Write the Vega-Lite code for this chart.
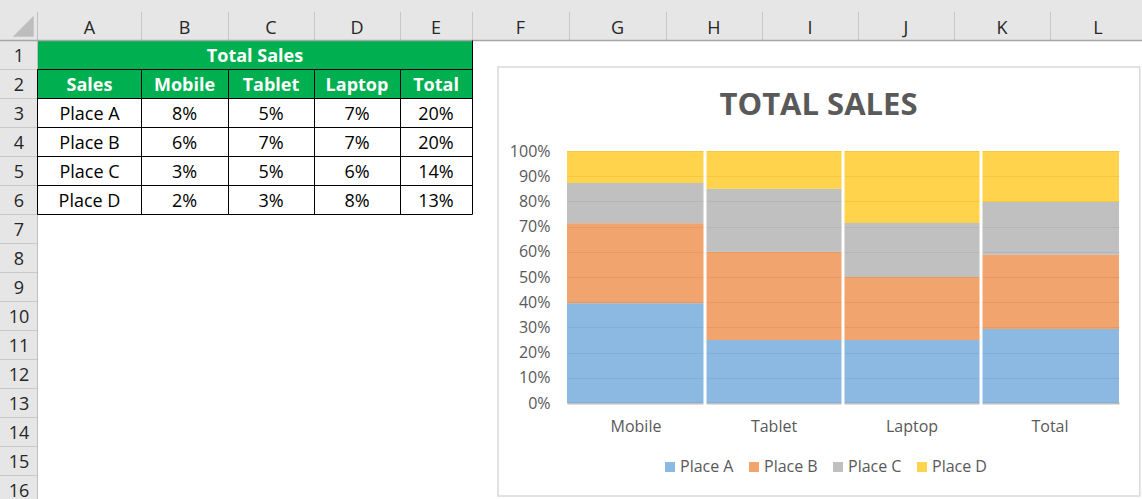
{
  "$schema": "https://vega.github.io/schema/vega-lite/v6.json",
  "width": 1142,
  "height": 499,
  "padding": 0,
  "autosize": {"type": "none"},
  "background": "#ffffff",
  "config": {"view": {"stroke": null}, "font": "Open Sans"},
  "title": {"text": "TOTAL SALES", "fontSize": 31, "fontWeight": "bold", "color": "#595959", "anchor": "middle", "frame": "group", "offset": 0, "baseline": "alphabetic", "dx": 247.5, "dy": 146},
  "datasets": {
    "columns": [
      {"letter": "A", "col": 1}, {"letter": "B", "col": 2}, {"letter": "C", "col": 3}, {"letter": "D", "col": 4},
      {"letter": "E", "col": 5}, {"letter": "F", "col": 6}, {"letter": "G", "col": 7}, {"letter": "H", "col": 8},
      {"letter": "I", "col": 9}, {"letter": "J", "col": 10}, {"letter": "K", "col": 11}, {"letter": "L", "col": 12}
    ],
    "rows": [
      {"row": 1}, {"row": 2}, {"row": 3}, {"row": 4}, {"row": 5}, {"row": 6}, {"row": 7}, {"row": 8},
      {"row": 9}, {"row": 10}, {"row": 11}, {"row": 12}, {"row": 13}, {"row": 14}, {"row": 15}, {"row": 16}
    ],
    "cells": [
      {"r": 1, "c": 1, "text": "Total Sales"},
      {"r": 2, "c": 1, "text": "Sales"}, {"r": 2, "c": 2, "text": "Mobile"}, {"r": 2, "c": 3, "text": "Tablet"}, {"r": 2, "c": 4, "text": "Laptop"}, {"r": 2, "c": 5, "text": "Total"},
      {"r": 3, "c": 1, "text": "Place A"}, {"r": 3, "c": 2, "text": "8%"}, {"r": 3, "c": 3, "text": "5%"}, {"r": 3, "c": 4, "text": "7%"}, {"r": 3, "c": 5, "text": "20%"},
      {"r": 4, "c": 1, "text": "Place B"}, {"r": 4, "c": 2, "text": "6%"}, {"r": 4, "c": 3, "text": "7%"}, {"r": 4, "c": 4, "text": "7%"}, {"r": 4, "c": 5, "text": "20%"},
      {"r": 5, "c": 1, "text": "Place C"}, {"r": 5, "c": 2, "text": "3%"}, {"r": 5, "c": 3, "text": "5%"}, {"r": 5, "c": 4, "text": "6%"}, {"r": 5, "c": 5, "text": "14%"},
      {"r": 6, "c": 1, "text": "Place D"}, {"r": 6, "c": 2, "text": "2%"}, {"r": 6, "c": 3, "text": "3%"}, {"r": 6, "c": 4, "text": "8%"}, {"r": 6, "c": 5, "text": "13%"}
    ],
    "sales": [
      {"product": "Mobile", "place": "Place A", "share": 0.396},
      {"product": "Mobile", "place": "Place B", "share": 0.317},
      {"product": "Mobile", "place": "Place C", "share": 0.160},
      {"product": "Mobile", "place": "Place D", "share": 0.127},
      {"product": "Tablet", "place": "Place A", "share": 0.25},
      {"product": "Tablet", "place": "Place B", "share": 0.35},
      {"product": "Tablet", "place": "Place C", "share": 0.25},
      {"product": "Tablet", "place": "Place D", "share": 0.15},
      {"product": "Laptop", "place": "Place A", "share": 0.25},
      {"product": "Laptop", "place": "Place B", "share": 0.25},
      {"product": "Laptop", "place": "Place C", "share": 0.214},
      {"product": "Laptop", "place": "Place D", "share": 0.286},
      {"product": "Total", "place": "Place A", "share": 0.294},
      {"product": "Total", "place": "Place B", "share": 0.294},
      {"product": "Total", "place": "Place C", "share": 0.21},
      {"product": "Total", "place": "Place D", "share": 0.202}
    ]
  },
  "layer": [
    {
      "layer": [
        {
          "data": {"values": [{"part": "column headings"}]},
          "mark": {"type": "rect", "color": "#e6e6e6"},
          "encoding": {
            "x": {"datum": 0, "type": "quantitative", "axis": null, "scale": {"type": "linear", "domain": [0,1,2,3,4,5,6,7,8,9,10,11,12,13], "range": [0,37.5,141.5,228.5,314.5,400.5,472.5,569.5,666.5,762.5,858.5,954.5,1050.5,1146.5], "nice": false, "zero": false}},
            "x2": {"datum": 13},
            "y": {"datum": 0, "type": "quantitative", "axis": null, "scale": {"type": "linear", "domain": [0,0.3,1,17], "range": [0,12,40.5,504.5], "nice": false, "zero": false}},
            "y2": {"datum": 1}
          }
        },
        {
          "data": {"values": [{"part": "row headings"}]},
          "mark": {"type": "rect", "color": "#e6e6e6"},
          "encoding": {
            "x": {"datum": 0, "type": "quantitative", "axis": null, "scale": {"type": "linear", "domain": [0,1,2,3,4,5,6,7,8,9,10,11,12,13], "range": [0,37.5,141.5,228.5,314.5,400.5,472.5,569.5,666.5,762.5,858.5,954.5,1050.5,1146.5], "nice": false, "zero": false}},
            "x2": {"datum": 1},
            "y": {"datum": 0, "type": "quantitative", "axis": null, "scale": {"type": "linear", "domain": [0,0.3,1,17], "range": [0,12,40.5,504.5], "nice": false, "zero": false}},
            "y2": {"datum": 17}
          }
        },
        {
          "data": {"values": [{"part": "table heading fill"}]},
          "mark": {"type": "rect", "color": "#00b050"},
          "encoding": {
            "x": {"datum": 1, "type": "quantitative", "axis": null, "scale": {"type": "linear", "domain": [0,1,2,3,4,5,6,7,8,9,10,11,12,13], "range": [0,37.5,141.5,228.5,314.5,400.5,472.5,569.5,666.5,762.5,858.5,954.5,1050.5,1146.5], "nice": false, "zero": false}},
            "x2": {"datum": 6},
            "y": {"datum": 1, "type": "quantitative", "axis": null, "scale": {"type": "linear", "domain": [0,0.3,1,17], "range": [0,12,40.5,504.5], "nice": false, "zero": false}},
            "y2": {"datum": 3}
          }
        },
        {
          "data": {"name": "columns"},
          "mark": {"type": "rule", "color": "#c8c8c8", "strokeWidth": 1},
          "encoding": {
            "x": {"field": "col", "type": "quantitative", "axis": null, "scale": {"type": "linear", "domain": [0,1,2,3,4,5,6,7,8,9,10,11,12,13], "range": [0,37.5,141.5,228.5,314.5,400.5,472.5,569.5,666.5,762.5,858.5,954.5,1050.5,1146.5], "nice": false, "zero": false}},
            "y": {"datum": 0.3, "type": "quantitative", "axis": null, "scale": {"type": "linear", "domain": [0,0.3,1,17], "range": [0,12,40.5,504.5], "nice": false, "zero": false}},
            "y2": {"datum": 1}
          }
        },
        {
          "data": {"name": "rows"},
          "transform": [{"filter": "datum.row >= 2"}],
          "mark": {"type": "rule", "color": "#c8c8c8", "strokeWidth": 1},
          "encoding": {
            "x": {"datum": 0, "type": "quantitative", "axis": null, "scale": {"type": "linear", "domain": [0,1,2,3,4,5,6,7,8,9,10,11,12,13], "range": [0,37.5,141.5,228.5,314.5,400.5,472.5,569.5,666.5,762.5,858.5,954.5,1050.5,1146.5], "nice": false, "zero": false}},
            "x2": {"datum": 1},
            "y": {"field": "row", "type": "quantitative", "axis": null, "scale": {"type": "linear", "domain": [0,0.3,1,17], "range": [0,12,40.5,504.5], "nice": false, "zero": false}}
          }
        },
        {
          "data": {"values": [{"part": "row heading border"}]},
          "mark": {"type": "rule", "color": "#bfbfbf", "strokeWidth": 1},
          "encoding": {
            "x": {"datum": 1, "type": "quantitative", "axis": null, "scale": {"type": "linear", "domain": [0,1,2,3,4,5,6,7,8,9,10,11,12,13], "range": [0,37.5,141.5,228.5,314.5,400.5,472.5,569.5,666.5,762.5,858.5,954.5,1050.5,1146.5], "nice": false, "zero": false}},
            "y": {"datum": 0.3, "type": "quantitative", "axis": null, "scale": {"type": "linear", "domain": [0,0.3,1,17], "range": [0,12,40.5,504.5], "nice": false, "zero": false}},
            "y2": {"datum": 17}
          }
        },
        {
          "data": {"values": [{"part": "column heading border"}]},
          "mark": {"type": "rule", "color": "#a6a6a6", "strokeWidth": 1.6},
          "encoding": {
            "x": {"datum": 0, "type": "quantitative", "axis": null, "scale": {"type": "linear", "domain": [0,1,2,3,4,5,6,7,8,9,10,11,12,13], "range": [0,37.5,141.5,228.5,314.5,400.5,472.5,569.5,666.5,762.5,858.5,954.5,1050.5,1146.5], "nice": false, "zero": false}},
            "x2": {"datum": 13},
            "y": {"datum": 1, "type": "quantitative", "axis": null, "scale": {"type": "linear", "domain": [0,0.3,1,17], "range": [0,12,40.5,504.5], "nice": false, "zero": false}}
          }
        },
        {
          "data": {"values": [{"part": "select all corner"}]},
          "mark": {"type": "point", "shape": "M 1 -1 L 1 1 L -1 1 Z", "filled": true, "color": "#bdbdbd", "opacity": 1, "size": 441, "strokeWidth": 0},
          "encoding": {
            "x": {"datum": 0.62, "type": "quantitative", "axis": null, "scale": {"type": "linear", "domain": [0,1,2,3,4,5,6,7,8,9,10,11,12,13], "range": [0,37.5,141.5,228.5,314.5,400.5,472.5,569.5,666.5,762.5,858.5,954.5,1050.5,1146.5], "nice": false, "zero": false}},
            "y": {"datum": 0.65, "type": "quantitative", "axis": null, "scale": {"type": "linear", "domain": [0,0.3,1,17], "range": [0,12,40.5,504.5], "nice": false, "zero": false}}
          }
        },
        {
          "data": {"name": "rows"},
          "transform": [{"filter": "datum.row >= 2 && datum.row <= 7"}],
          "mark": {"type": "rule", "color": "#000000", "strokeWidth": 1},
          "encoding": {
            "x": {"datum": 1, "type": "quantitative", "axis": null, "scale": {"type": "linear", "domain": [0,1,2,3,4,5,6,7,8,9,10,11,12,13], "range": [0,37.5,141.5,228.5,314.5,400.5,472.5,569.5,666.5,762.5,858.5,954.5,1050.5,1146.5], "nice": false, "zero": false}},
            "x2": {"datum": 6},
            "y": {"field": "row", "type": "quantitative", "axis": null, "scale": {"type": "linear", "domain": [0,0.3,1,17], "range": [0,12,40.5,504.5], "nice": false, "zero": false}}
          }
        },
        {
          "data": {"name": "columns"},
          "transform": [{"filter": "datum.col <= 5"}],
          "mark": {"type": "rule", "color": "#000000", "strokeWidth": 1},
          "encoding": {
            "x": {"field": "col", "type": "quantitative", "axis": null, "scale": {"type": "linear", "domain": [0,1,2,3,4,5,6,7,8,9,10,11,12,13], "range": [0,37.5,141.5,228.5,314.5,400.5,472.5,569.5,666.5,762.5,858.5,954.5,1050.5,1146.5], "nice": false, "zero": false}},
            "y": {"datum": 2, "type": "quantitative", "axis": null, "scale": {"type": "linear", "domain": [0,0.3,1,17], "range": [0,12,40.5,504.5], "nice": false, "zero": false}},
            "y2": {"datum": 7}
          }
        },
        {
          "data": {"values": [{"part": "table right border"}]},
          "mark": {"type": "rule", "color": "#000000", "strokeWidth": 1},
          "encoding": {
            "x": {"datum": 6, "type": "quantitative", "axis": null, "scale": {"type": "linear", "domain": [0,1,2,3,4,5,6,7,8,9,10,11,12,13], "range": [0,37.5,141.5,228.5,314.5,400.5,472.5,569.5,666.5,762.5,858.5,954.5,1050.5,1146.5], "nice": false, "zero": false}},
            "y": {"datum": 1, "type": "quantitative", "axis": null, "scale": {"type": "linear", "domain": [0,0.3,1,17], "range": [0,12,40.5,504.5], "nice": false, "zero": false}},
            "y2": {"datum": 7}
          }
        },
        {
          "data": {"values": [{"part": "chart area"}]},
          "mark": {"type": "rect", "filled": false, "fill": null, "stroke": "#d9d9d9", "strokeWidth": 1.5},
          "encoding": {
            "x": {"datum": 6.263, "type": "quantitative", "axis": null, "scale": {"type": "linear", "domain": [0,1,2,3,4,5,6,7,8,9,10,11,12,13], "range": [0,37.5,141.5,228.5,314.5,400.5,472.5,569.5,666.5,762.5,858.5,954.5,1050.5,1146.5], "nice": false, "zero": false}},
            "x2": {"datum": 12.93},
            "y": {"datum": 1.914, "type": "quantitative", "axis": null, "scale": {"type": "linear", "domain": [0,0.3,1,17], "range": [0,12,40.5,504.5], "nice": false, "zero": false}},
            "y2": {"datum": 16.707}
          }
        }
      ]
    },
    {
      "layer": [
        {
          "data": {"name": "columns"},
          "mark": {"type": "text", "fontSize": 18, "color": "#262626", "align": "center", "baseline": "middle"},
          "encoding": {
            "text": {"field": "letter", "type": "nominal"},
            "x": {"field": "col", "type": "quantitative", "axis": null, "scale": {"type": "linear", "domain": [0,1,2,3,4,5,6,7,8,9,10,11,12], "range": [19,89.5,184.5,271,357,436,520.5,617.5,714,810,906,1002,1098], "nice": false, "zero": false}},
            "y": {"datum": 0, "type": "quantitative", "axis": null, "scale": {"type": "linear", "domain": [0,1,16], "range": [28.7,57.4,492.4], "nice": false, "zero": false}}
          }
        },
        {
          "data": {"name": "rows"},
          "mark": {"type": "text", "fontSize": 18, "color": "#262626", "align": "center", "baseline": "middle"},
          "encoding": {
            "text": {"field": "row", "type": "nominal"},
            "x": {"datum": 0, "type": "quantitative", "axis": null, "scale": {"type": "linear", "domain": [0,1,2,3,4,5,6,7,8,9,10,11,12], "range": [19,89.5,184.5,271,357,436,520.5,617.5,714,810,906,1002,1098], "nice": false, "zero": false}},
            "y": {"field": "row", "type": "quantitative", "axis": null, "scale": {"type": "linear", "domain": [0,1,16], "range": [28.7,57.4,492.4], "nice": false, "zero": false}}
          }
        },
        {
          "data": {"name": "cells"},
          "transform": [{"filter": "datum.r == 1"}],
          "mark": {"type": "text", "fontSize": 18, "fontWeight": "bold", "color": "#ffffff", "align": "center", "baseline": "middle"},
          "encoding": {
            "text": {"field": "text", "type": "nominal"},
            "x": {"datum": 2.815, "type": "quantitative", "axis": null, "scale": {"type": "linear", "domain": [0,1,2,3,4,5,6,7,8,9,10,11,12], "range": [19,89.5,184.5,271,357,436,520.5,617.5,714,810,906,1002,1098], "nice": false, "zero": false}},
            "y": {"field": "r", "type": "quantitative", "axis": null, "scale": {"type": "linear", "domain": [0,1,16], "range": [28.7,57.4,492.4], "nice": false, "zero": false}}
          }
        },
        {
          "data": {"name": "cells"},
          "transform": [{"filter": "datum.r == 2"}],
          "mark": {"type": "text", "fontSize": 18, "fontWeight": "bold", "color": "#ffffff", "align": "center", "baseline": "middle"},
          "encoding": {
            "text": {"field": "text", "type": "nominal"},
            "x": {"field": "c", "type": "quantitative", "axis": null, "scale": {"type": "linear", "domain": [0,1,2,3,4,5,6,7,8,9,10,11,12], "range": [19,89.5,184.5,271,357,436,520.5,617.5,714,810,906,1002,1098], "nice": false, "zero": false}},
            "y": {"field": "r", "type": "quantitative", "axis": null, "scale": {"type": "linear", "domain": [0,1,16], "range": [28.7,57.4,492.4], "nice": false, "zero": false}}
          }
        },
        {
          "data": {"name": "cells"},
          "transform": [{"filter": "datum.r >= 3"}],
          "mark": {"type": "text", "fontSize": 18, "color": "#000000", "align": "center", "baseline": "middle"},
          "encoding": {
            "text": {"field": "text", "type": "nominal"},
            "x": {"field": "c", "type": "quantitative", "axis": null, "scale": {"type": "linear", "domain": [0,1,2,3,4,5,6,7,8,9,10,11,12], "range": [19,89.5,184.5,271,357,436,520.5,617.5,714,810,906,1002,1098], "nice": false, "zero": false}},
            "y": {"field": "r", "type": "quantitative", "axis": null, "scale": {"type": "linear", "domain": [0,1,16], "range": [28.7,57.4,492.4], "nice": false, "zero": false}}
          }
        }
      ]
    },
    {
      "data": {"name": "sales"},
      "layer": [
        {
          "mark": {"type": "bar", "opacity": 0.7},
          "encoding": {
            "x": {
              "field": "product", "type": "nominal", "sort": null,
              "scale": {"type": "band", "domain": ["Mobile", "Tablet", "Laptop", "Total"], "range": [567, 1119], "paddingInner": 0, "paddingOuter": 0},
              "axis": {"orient": "bottom", "offset": -96, "title": null, "domain": true, "domainColor": "#bfbfbf", "domainWidth": 2, "ticks": false, "tickSize": 0, "labelPadding": 15, "labelFontSize": 16, "labelColor": "#595959", "labelAngle": 0, "grid": false}
            },
            "y": {
              "field": "share", "type": "quantitative", "stack": "normalize",
              "scale": {"type": "linear", "domain": [0, 1], "range": [403, 151], "nice": false, "zero": true},
              "axis": {"orient": "left", "offset": -567, "title": null, "domain": false, "ticks": false, "tickSize": 0, "labelPadding": 17, "values": [0, 0.1, 0.2, 0.3, 0.4, 0.5, 0.6, 0.7, 0.8, 0.9, 1], "format": ".0%", "labelFontSize": 16, "labelColor": "#595959", "grid": true, "gridColor": "#d9d9d9", "gridWidth": 1}
            },
            "color": {
              "field": "place", "type": "nominal",
              "scale": {"domain": ["Place A", "Place B", "Place C", "Place D"], "range": ["#5B9BD5", "#ED7D31", "#A5A5A5", "#FFC000"]},
              "legend": {"orient": "none", "legendX": 662, "legendY": 459, "direction": "horizontal", "title": null, "symbolType": "square", "symbolSize": 100, "symbolOpacity": 0.7, "symbolStrokeWidth": 0, "labelFontSize": 16, "labelColor": "#595959", "labelOffset": 2, "columnPadding": 12}
            },
            "order": {"field": "place", "type": "ordinal", "sort": "ascending"}
          }
        },
        {
          "transform": [{"filter": "datum.place === 'Place A' && datum.product !== 'Mobile'"}],
          "mark": {"type": "rule", "color": "#ffffff", "strokeWidth": 3},
          "encoding": {
            "x": {"field": "product", "type": "nominal", "bandPosition": 0},
            "y": {"datum": 1, "type": "quantitative"},
            "y2": {"datum": -0.012}
          }
        }
      ]
    }
  ],
  "resolve": {"scale": {"x": "independent", "y": "independent"}, "axis": {"x": "independent", "y": "independent"}}
}
